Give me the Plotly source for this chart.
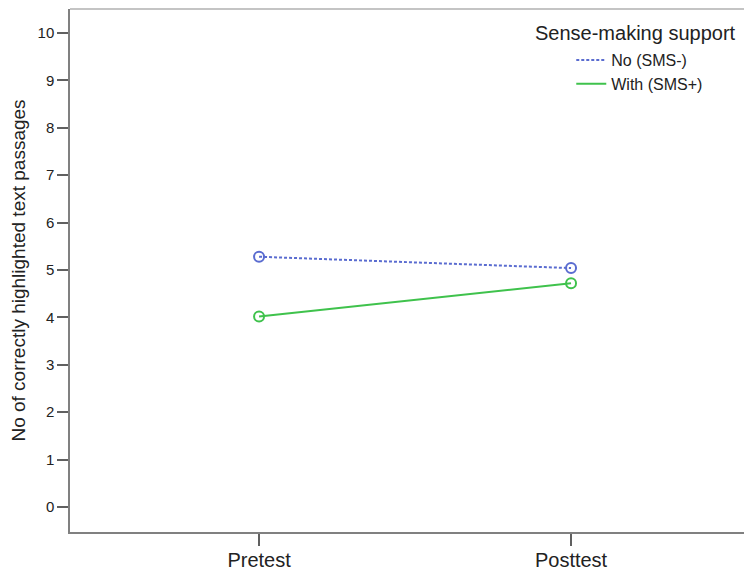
import plotly.graph_objects as go

categories = ["Pretest", "Posttest"]
no_sms = [5.28, 5.04]
with_sms = [4.02, 4.72]
y_ticks = list(range(0, 11))
series_names = ["No (SMS-)", "With (SMS+)"]
legend_title = "Sense-making support"
y_title = "No of correctly highlighted text passages"

xpos = list(range(len(categories)))
colors = ["#5a6cd0", "#3fc24c"]
dashes = ["3px,2px", "solid"]

fig = go.Figure()
for vals, name, col, dash in zip([no_sms, with_sms], series_names, colors, dashes):
    fig.add_trace(go.Scatter(
        x=xpos, y=vals, name=name, mode="lines+markers", showlegend=False,
        line=dict(color=col, width=2, dash=dash),
        marker=dict(symbol="circle-open", size=10, color=col, line=dict(width=2)),
    ))
    # legend entry shows only the line style
    fig.add_trace(go.Scatter(
        x=[None], y=[None], name=name, mode="lines",
        line=dict(color=col, width=2, dash=dash),
    ))

# page body has an 8px margin, so the figure is sized to fit inside the window
fig.update_layout(
    width=744, height=561,
    margin=dict(l=62, r=0, t=1, b=37, autoexpand=False),
    plot_bgcolor="white", paper_bgcolor="white",
    font=dict(family="Liberation Sans, Arial, sans-serif", color="#222"),
    showlegend=True,
    legend=dict(x=0.735, y=0.935, xanchor="left", yanchor="top",
                font=dict(size=16, color="#222"), bgcolor="rgba(0,0,0,0)",
                tracegroupgap=0, itemwidth=30),
    annotations=[dict(text=legend_title, xref="paper", yref="paper",
                      x=0.98, y=0.955, xanchor="right", yanchor="middle",
                      showarrow=False, font=dict(size=20, color="#222"))],
    shapes=[dict(type="line", xref="paper", yref="paper", x0=0, x1=1, y0=1, y1=1,
                 line=dict(color="#b0b0b0", width=1.5))],
)
fig.update_xaxes(
    range=[-0.606, 1.58], tickvals=xpos, ticktext=categories, automargin=False,
    showline=True, linecolor="#808080", linewidth=1.5,
    ticks="outside", ticklen=12, tickcolor="#606060", tickwidth=1.5,
    ticklabelstandoff=-3,
    showgrid=False, zeroline=False, tickfont=dict(size=20, color="#222"),
)
fig.update_yaxes(
    range=[-0.528, 10.507], tickvals=y_ticks, automargin=False,
    showline=True, linecolor="#808080", linewidth=1.5,
    ticks="outside", ticklen=11, tickcolor="#606060", tickwidth=1.5,
    showgrid=False, zeroline=False, tickfont=dict(size=15, color="#222"),
    title=dict(text=y_title, font=dict(size=19, color="#222"), standoff=10),
)

fig.write_html("out.html")
